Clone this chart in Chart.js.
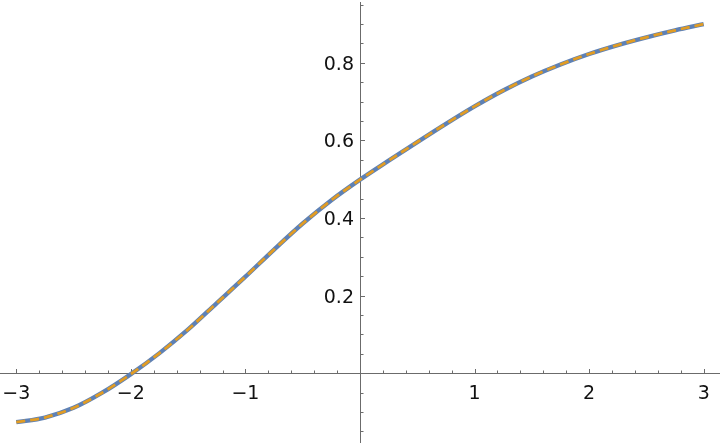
<!DOCTYPE html>
<html>
<head>
<meta charset="utf-8">
<script src="https://cdn.jsdelivr.net/npm/chart.js@4/dist/chart.umd.min.js"></script>
<style>
html,body{margin:0;padding:0;background:#fff;}
#wrap{width:720px;height:446px;position:relative;}
</style>
</head>
<body>
<div id="wrap"><canvas id="c" width="720" height="446"></canvas></div>
<script>
// Data
const xValues = [-3,-2.75,-2.5,-2.25,-2,-1.75,-1.5,-1.25,-1,-0.75,-0.5,-0.25,0,0.25,0.5,0.75,1,1.25,1.5,1.75,2,2.25,2.5,2.75,3];
const curveA  = [-0.126,-0.114,-0.089,-0.050,-0.002,0.052,0.113,0.181,0.249,0.319,0.386,0.446,0.499,0.548,0.596,0.643,0.688,0.729,0.765,0.796,0.823,0.846,0.866,0.884,0.900];
const curveB  = curveA.slice();
const xTickLabels = [-3,-2,-1,1,2,3];
const yTickLabels = [0.2,0.4,0.6,0.8];
const xMinorStep = 0.2;
const yMinorStep = 0.05;

const pts = arr => xValues.map((x,i)=>({x:x, y:arr[i]}));
const fmt = v => (v<0 ? '\u2212' : '') + String(Math.abs(v));
const FONT = '19px "DejaVu Sans"';

const axesPlugin = {
  id:'mmaAxes',
  beforeDatasetsDraw(chart){
    const ctx = chart.ctx, xs = chart.scales.x, ys = chart.scales.y;
    const x0 = xs.getPixelForValue(0), y0 = ys.getPixelForValue(0);
    const ax = Math.round(x0)+0.5, ay = Math.round(y0)+0.5;
    ctx.save();
    ctx.strokeStyle = '#6b6b6b';
    ctx.lineWidth = 1;
    ctx.beginPath();
    ctx.moveTo(0, ay); ctx.lineTo(chart.width, ay);
    ctx.moveTo(ax, 2); ctx.lineTo(ax, chart.height-3);
    for(let k=Math.ceil(xs.min/xMinorStep); k<=Math.floor(xs.max/xMinorStep); k++){
      const v = k*xMinorStep;
      if (Math.abs(v) < 1e-9) continue;
      const major = Math.abs(v-Math.round(v))<1e-9;
      const px = Math.round(xs.getPixelForValue(v))+0.5;
      const len = major ? 4 : 2.5;
      ctx.moveTo(px, ay-0.5); ctx.lineTo(px, ay-0.5-len);
    }
    for(let k=Math.ceil(ys.min/yMinorStep); k<=Math.floor(ys.max/yMinorStep); k++){
      const v = k*yMinorStep;
      if (Math.abs(v) < 1e-9) continue;
      const major = Math.abs(v*5-Math.round(v*5))<1e-6;
      const py = Math.round(ys.getPixelForValue(v))+0.5;
      const len = major ? 4 : 2.5;
      ctx.moveTo(ax+0.5, py); ctx.lineTo(ax+0.5+len, py);
    }
    ctx.stroke();
    // tick labels
    ctx.fillStyle = '#111';
    ctx.font = FONT;
    ctx.textBaseline = 'alphabetic';
    ctx.textAlign = 'center';
    xTickLabels.forEach(v => {
      ctx.fillText(fmt(v), xs.getPixelForValue(v), y0 + 26);
    });
    ctx.textAlign = 'right';
    yTickLabels.forEach(v => {
      ctx.fillText(String(v), x0 - 6, ys.getPixelForValue(v) + 7);
    });
    ctx.restore();
  }
};

new Chart(document.getElementById('c'), {
  type:'line',
  data:{
    datasets:[
      {data:pts(curveB), borderColor:'#e19c24', borderWidth:2.8, borderDash:[9,5], pointRadius:0, fill:false, cubicInterpolationMode:'monotone'},
      {data:pts(curveA), borderColor:'#5e81b5', borderWidth:4.4, pointRadius:0, fill:false, cubicInterpolationMode:'monotone'}
    ]
  },
  options:{
    responsive:false,
    animation:false,
    layout:{padding:0},
    plugins:{legend:{display:false}, tooltip:{enabled:false}},
    scales:{
      x:{type:'linear', min:-3.1422, max:3.1422, display:false},
      y:{type:'linear', min:-0.1874, max:0.9621, display:false}
    }
  },
  plugins:[axesPlugin]
});
</script>
</body>
</html>
